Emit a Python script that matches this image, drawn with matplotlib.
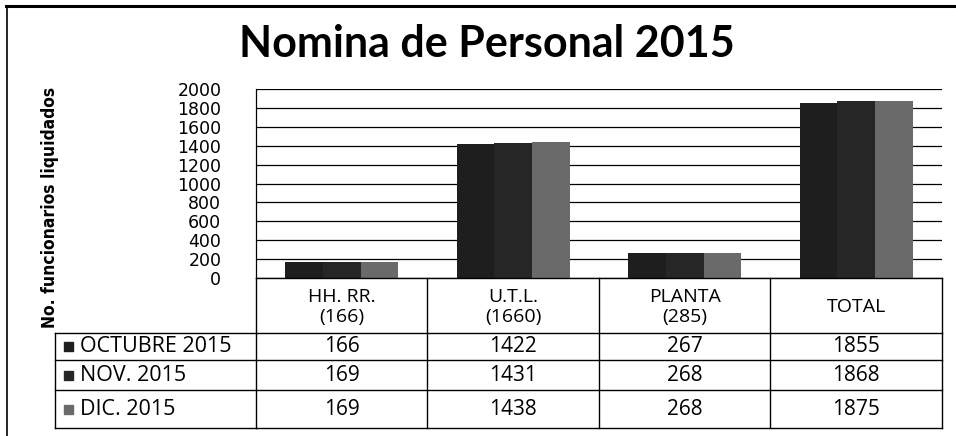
#!/usr/bin/env python3

import numpy as np
import matplotlib.pyplot as plt
from matplotlib.lines import Line2D
from matplotlib.patches import Rectangle
from matplotlib.transforms import blended_transform_factory

# data
categories = ['HH. RR.\n(166)', 'U.T.L.\n(1660)', 'PLANTA\n(285)', 'TOTAL']
series_names = ['OCTUBRE 2015', 'NOV. 2015', 'DIC. 2015']
octubre = [166, 1422, 267, 1855]
noviembre = [169, 1431, 268, 1868]
diciembre = [169, 1438, 268, 1875]
yticks = [0, 200, 400, 600, 800, 1000, 1200, 1400, 1600, 1800, 2000]

series = [octubre, noviembre, diciembre]
colors = ['#1e1e1e', '#262626', '#6a6a6a']

W, H = 956, 436
fig = plt.figure(figsize=(W / 100, H / 100), dpi=100)

def fx(px):
    return px / W

def fy(py):
    return 1 - py / H

# plot area in pixels
left, right, top, bottom = 256, 942, 89, 278
ax = fig.add_axes([fx(left), fy(bottom), fx(right - left), fy(top) - fy(bottom)])

x = np.arange(len(categories))
bw = 0.22
for i, vals in enumerate(series):
    ax.bar(x + (i - 1) * bw, vals, width=bw, color=colors[i], zorder=3, linewidth=0)

ax.set_xlim(-0.5, len(categories) - 0.5)
ax.set_ylim(0, 2000)
ax.set_yticks(yticks)
ax.set_yticklabels([str(v) for v in yticks], fontsize=12.5, family='DejaVu Sans')
ax.tick_params(axis='y', length=0, pad=25)
ax.set_xticks([])
ax.grid(axis='y', color='black', linewidth=0.9, zorder=1)
for s in ['top', 'right', 'bottom']:
    ax.spines[s].set_visible(False)
ax.spines['left'].set_linewidth(0.9)

# title and y label
fig.text(fx(487), fy(44), 'Nomina de Personal 2015', ha='center', va='center',
         fontsize=31, fontweight='bold', family='Lato')
fig.text(fx(50), fy(207), 'No. funcionarios liquidados', rotation=90, ha='center', va='center',
         fontsize=12.5, fontweight='bold', family='DejaVu Sans', fontstretch='condensed')

# outer frame
fig.add_artist(Line2D([fx(6), fx(956)], [fy(6), fy(6)], color='black', linewidth=2.2))
fig.add_artist(Line2D([fx(7), fx(7)], [fy(6), fy(436)], color='black', linewidth=1.2))

# data table under the axis
tr = blended_transform_factory(ax.transData, fig.transFigure)
row_lines = [278, 333, 360, 390, 428]
edges = [i - 0.5 for i in range(len(categories) + 1)]
lw = 1.0

for e in edges:
    fig.add_artist(Line2D([e, e], [fy(278), fy(428)], color='black', linewidth=lw, transform=tr))
for ry in row_lines:
    fig.add_artist(Line2D([edges[0], edges[-1]], [fy(ry), fy(ry)], color='black', linewidth=lw, transform=tr))
label_left = 55
fig.add_artist(Line2D([fx(label_left), fx(label_left)], [fy(333), fy(428)], color='black', linewidth=lw))
for ry in row_lines[1:]:
    fig.add_artist(Line2D([fx(label_left), fx(left)], [fy(ry), fy(ry)], color='black', linewidth=lw))

# header cells
for i, cat in enumerate(categories):
    fig.text(x[i], fy(307), cat, transform=tr, ha='center', va='center',
             fontsize=14, family='Open Sans', linespacing=1.2)

# value rows
for r, (name, vals) in enumerate(zip(series_names, series)):
    cy = (row_lines[r + 1] + row_lines[r + 2]) / 2
    fig.add_artist(Rectangle((fx(64), fy(cy + 4.5)), fx(9), fy(0) - fy(9), color=colors[r],
                             transform=fig.transFigure))
    fig.text(fx(80), fy(cy), name, ha='left', va='center', fontsize=15.5, family='Open Sans')
    for i, v in enumerate(vals):
        fig.text(x[i], fy(cy), str(v), transform=tr, ha='center', va='center',
                 fontsize=15, family='Open Sans')

plt.savefig('out.png', dpi=100)
